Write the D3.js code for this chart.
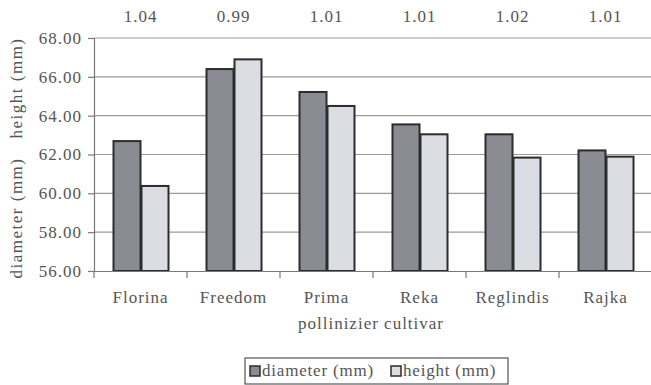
<!DOCTYPE html>
<html>
<head>
<meta charset="utf-8">
<script src="https://cdn.jsdelivr.net/npm/d3@7"></script>
<style>
  html, body { margin: 0; padding: 0; background: #fff; }
  svg text { font-family: 'Liberation Serif', 'DejaVu Serif', serif; fill: #555; }
</style>
</head>
<body>
<svg id="chart" width="651" height="385"></svg>
<script>
// Fruit size by pollinizer cultivar
const categories = ["Florina", "Freedom", "Prima", "Reka", "Reglindis", "Rajka"];
const diameter = [62.69, 66.40, 65.22, 63.55, 63.04, 62.21];
const height   = [60.38, 66.90, 64.50, 63.04, 61.84, 61.89];
const ratios   = ["1.04", "0.99", "1.01", "1.01", "1.02", "1.01"];
const yTicks   = [56, 58, 60, 62, 64, 66, 68];
const seriesNames = ["diameter (mm)", "height (mm)"];

const FONT = "'Liberation Serif', 'DejaVu Serif', serif";
const svg = d3.select("#chart");
const plot = { left: 94, right: 652, top: 38, bottom: 271 };

const x = d3.scaleBand().domain(categories).range([plot.left, plot.right]).padding(0);
const x1 = d3.scaleBand().domain([0, 1]).range([18.5, x.bandwidth() - 18.5]).padding(0);
const y = d3.scaleLinear().domain([56, 68]).range([plot.bottom, plot.top]);

const fills = ["#8b8b93", "#dcdde3"];

function styleText(sel, size, spacing) {
  sel.attr("font-family", FONT).style("font-family", FONT)
    .style("font-size", size + "px").style("letter-spacing", spacing + "px")
    .attr("fill", "#555");
  return sel;
}

// gridlines
svg.append("g")
  .selectAll("line")
  .data(yTicks.slice(1))
  .join("line")
  .attr("x1", plot.left).attr("x2", plot.right)
  .attr("y1", d => y(d)).attr("y2", d => y(d))
  .attr("stroke", "#9a9a9a").attr("stroke-width", 1.2);

// y axis
const yAxis = svg.append("g")
  .attr("transform", `translate(${plot.left},0)`)
  .call(d3.axisLeft(y).tickValues(yTicks).tickFormat(d3.format(".2f")).tickSize(6).tickPadding(6));
yAxis.attr("font-family", FONT);
yAxis.select(".domain").attr("stroke", "#777").attr("stroke-width", 1.2);
yAxis.selectAll(".tick line").attr("stroke", "#777").attr("stroke-width", 1.2);
styleText(yAxis.selectAll(".tick text"), 17, 1);

// bars
const groups = svg.append("g")
  .selectAll("g")
  .data(categories)
  .join("g")
  .attr("transform", d => `translate(${x(d)},0)`);

groups.selectAll("rect")
  .data((d, i) => [diameter[i], height[i]].map((v, k) => ({ v, k })))
  .join("rect")
  .attr("x", d => x1(d.k) + 1)
  .attr("width", x1.bandwidth() - 1)
  .attr("y", d => y(d.v))
  .attr("height", d => y(56) - y(d.v))
  .attr("fill", d => fills[d.k])
  .attr("stroke", "#2c2c2c")
  .attr("stroke-width", 2);

// x axis
const xAxis = svg.append("g")
  .attr("transform", `translate(0,${plot.bottom})`)
  .call(d3.axisBottom(x).tickSize(0).tickPadding(20));
xAxis.attr("font-family", FONT);
xAxis.select(".domain").attr("stroke", "#777").attr("stroke-width", 1.2);
styleText(xAxis.selectAll(".tick text"), 17, 1);

// tick marks between categories
svg.append("g")
  .selectAll("line")
  .data(categories)
  .join("line")
  .attr("x1", d => x(d)).attr("x2", d => x(d))
  .attr("y1", plot.bottom).attr("y2", plot.bottom + 7)
  .attr("stroke", "#777").attr("stroke-width", 1.2);

// ratio labels above each group
styleText(svg.append("g")
  .selectAll("text")
  .data(categories)
  .join("text")
  .attr("x", d => x(d) + x.bandwidth() / 2)
  .attr("y", 22)
  .attr("text-anchor", "middle")
  .text((d, i) => ratios[i]), 17, 1);

// axis titles
styleText(svg.append("text")
  .attr("x", 371).attr("y", 329)
  .attr("text-anchor", "middle")
  .text("pollinizier cultivar"), 17, 1);

styleText(svg.append("text")
  .attr("transform", "translate(22,218) rotate(-90)")
  .attr("text-anchor", "middle")
  .text("diameter (mm)"), 17, 1.5);
styleText(svg.append("text")
  .attr("transform", "translate(22,88) rotate(-90)")
  .attr("text-anchor", "middle")
  .text("height (mm)"), 17, 1.5);

// legend
const legend = svg.append("g").attr("transform", "translate(245,358)");
legend.append("rect")
  .attr("x", 0).attr("y", 0).attr("width", 263).attr("height", 26)
  .attr("fill", "#fff").attr("stroke", "#555").attr("stroke-width", 1.2);
const items = legend.selectAll("g")
  .data(seriesNames)
  .join("g")
  .attr("transform", (d, i) => `translate(${i === 0 ? 5 : 146},0)`);
items.append("rect")
  .attr("x", 0).attr("y", 8).attr("width", 10).attr("height", 10)
  .attr("fill", (d, i) => fills[i]).attr("stroke", "#2c2c2c").attr("stroke-width", 1.5);
styleText(items.append("text")
  .attr("x", 12).attr("y", 18)
  .text(d => d), 17, 0.8);
</script>
</body>
</html>
